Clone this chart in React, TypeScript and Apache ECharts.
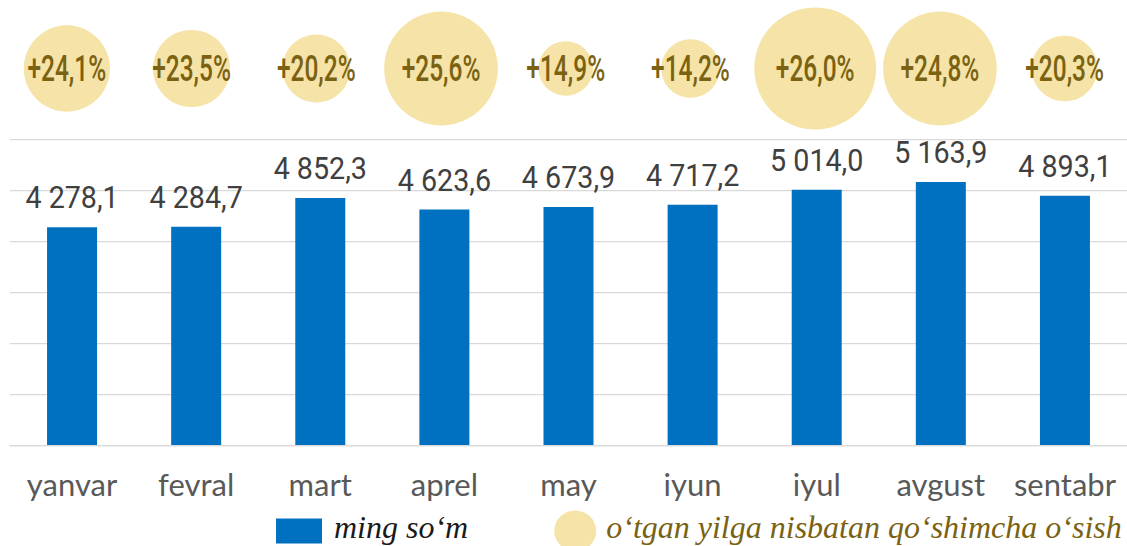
import React, { useEffect, useRef } from "react";
import * as echarts from "echarts";

const categories = ["yanvar", "fevral", "mart", "aprel", "may", "iyun", "iyul", "avgust", "sentabr"];
const salary = [4278.1, 4284.7, 4852.3, 4623.6, 4673.9, 4717.2, 5014.0, 5163.9, 4893.1];
const growth = [24.1, 23.5, 20.2, 25.6, 14.9, 14.2, 26.0, 24.8, 20.3];
// bubble size values (relative area, like an Excel bubble-size column)
const bubbleWeight = [50, 40, 31, 87, 20, 23, 100, 87, 29];
const yMin = 0;
const yMax = 6000;
const yStep = 1000;

const BAR_NAME = "ming so\u2018m";
const BUBBLE_NAME = "o\u2018tgan yilga nisbatan qo\u2018shimcha o\u2018sish";
const BLUE = "#0070C0";
const GOLD = "#F5E3A7";
const OLIVE = "#7A6212";
const GRID = "#D9D9D9";
const MAX_D = 122;

// legend icons (extra move-to points only pad the icon's bounding box)
const RECT_ICON = "path://M0,-8M53,-8M0,0h46v25h-46z";
const ELLIPSE_ICON = "path://M0,-8M53,-8M6,20.5a21,20.5 0 1,0 42,0a21,20.5 0 1,0 -42,0z";

function fmtNum(v: number): string {
  const [int, dec] = v.toFixed(1).split(".");
  const grouped = int.replace(/\B(?=(\d{3})+(?!\d))/g, " ");
  return grouped + "," + dec;
}
function fmtPct(v: number): string {
  return "+" + v.toFixed(1).replace(".", ",") + "%";
}

export default function App() {
  const ref = useRef<HTMLDivElement>(null);
  useEffect(() => {
    if (!ref.current) return;
    const chart = echarts.init(ref.current, undefined, { renderer: "svg" });
    const option: any = {
      animation: false,
      backgroundColor: "#ffffff",
      grid: [
        { left: 10, top: 139.5, width: 1125, height: 305.5 },
        { left: 4.5, top: 0, width: 1125, height: 137 },
      ],
      xAxis: [
        {
          type: "category",
          gridIndex: 0,
          data: categories,
          axisLine: { show: true, lineStyle: { color: GRID, width: 1.25 } },
          axisTick: { show: false },
          axisLabel: {
            interval: 0,
            color: "#595959",
            fontFamily: "Lato",
            fontSize: 31,
            margin: 23,
          },
        },
        {
          type: "category",
          gridIndex: 1,
          data: categories,
          show: false,
        },
      ],
      yAxis: [
        {
          type: "value",
          gridIndex: 0,
          min: yMin,
          max: yMax,
          interval: yStep,
          axisLabel: { show: false },
          axisLine: { show: false },
          axisTick: { show: false },
          splitLine: { show: true, lineStyle: { color: GRID, width: 1.25 } },
        },
        {
          type: "value",
          gridIndex: 1,
          show: false,
          splitLine: { show: false },
        },
      ],
      legend: {
        left: 276,
        top: 502.5,
        padding: 0,
        itemWidth: 53,
        itemHeight: 49,
        itemGap: 80,
        symbolKeepAspect: true,
        data: [
          {
            name: BAR_NAME,
            icon: RECT_ICON,
            itemStyle: { color: BLUE },
            textStyle: {
              color: "#1a1a1a",
              fontFamily: "Liberation Serif",
              fontStyle: "italic",
              fontSize: 32,
            },
          },
          {
            name: BUBBLE_NAME,
            icon: ELLIPSE_ICON,
            itemStyle: { color: GOLD },
            textStyle: {
              color: OLIVE,
              fontFamily: "Liberation Serif",
              fontStyle: "italic",
              fontSize: 32,
            },
          },
        ],
        selectedMode: false,
      },
      series: [
        {
          name: BAR_NAME,
          type: "bar",
          xAxisIndex: 0,
          yAxisIndex: 0,
          data: salary,
          barWidth: 50,
          itemStyle: { color: BLUE },
          silent: true,
        },
        {
          name: "barLabels",
          type: "custom",
          xAxisIndex: 0,
          yAxisIndex: 0,
          data: salary.map((v, i) => [i, v]),
          silent: true,
          renderItem: (params: any, api: any) => {
            const i = api.value(0);
            const v = api.value(1);
            const p = api.coord([i, v]);
            return {
              type: "text",
              x: p[0],
              y: p[1] - 29,
              scaleX: 0.94,
              style: {
                text: fmtNum(v),
                fill: "#404040",
                font: "400 30.5px Roboto",
                align: "center",
                verticalAlign: "middle",
              },
            };
          },
        },
        {
          name: BUBBLE_NAME,
          type: "custom",
          xAxisIndex: 1,
          yAxisIndex: 1,
          data: growth.map((g, i) => [i, g, bubbleWeight[i]]),
          itemStyle: { color: GOLD },
          silent: true,
          renderItem: (params: any, api: any) => {
            const i = api.value(0);
            const g = api.value(1);
            const w = api.value(2);
            const cs = params.coordSys;
            const cx = api.coord([i, g])[0];
            const cy = cs.y + cs.height / 2;
            const d = MAX_D * Math.sqrt(w / 100);
            return {
              type: "group",
              children: [
                { type: "circle", shape: { cx, cy, r: d / 2 }, style: { fill: GOLD } },
                {
                  type: "text",
                  x: cx,
                  y: cy,
                  scaleX: 0.68,
                  style: {
                    text: fmtPct(g),
                    fill: OLIVE,
                    font: "500 36px Roboto",
                    align: "center",
                    verticalAlign: "middle",
                  },
                },
              ],
            };
          },
        },
      ],
    };
    chart.setOption(option);
    return () => chart.dispose();
  }, []);
  return (
    <div
      ref={ref}
      style={{ position: "fixed", left: 0, top: 0, width: 1127, height: 546, background: "#fff" }}
    />
  );
}
